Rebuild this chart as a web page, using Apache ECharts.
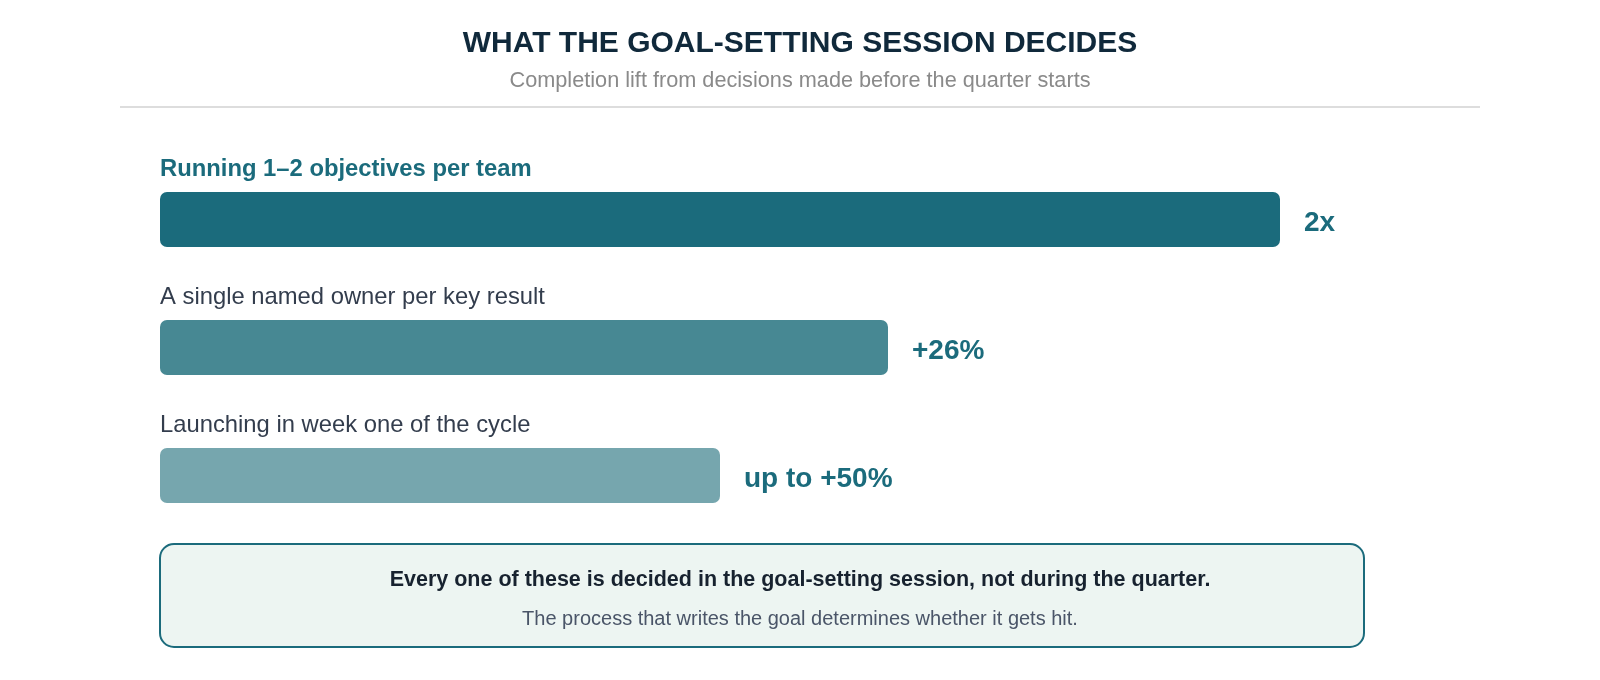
<!DOCTYPE html>
<html>
<head>
<meta charset="utf-8">
<script src="https://cdn.jsdelivr.net/npm/echarts@6/dist/echarts.min.js"></script>
<style>
  html, body { margin: 0; padding: 0; background: #ffffff; }
  #chart { width: 1600px; height: 680px; }
</style>
</head>
<body>
<div id="chart"></div>
<script>
const categories = [
  'Running 1\u20132 objectives per team',
  'A single named owner per key result',
  'Launching in week one of the cycle'
];
const barValues = [100, 65, 50];
const valueLabels = ['2x', '+26%', 'up to +50%'];
const barColors = ['#1b6b7c', '#478893', '#76a6ae'];
const titleText = 'WHAT THE GOAL-SETTING SESSION DECIDES';
const subtitleText = 'Completion lift from decisions made before the quarter starts';
const calloutMain = 'Every one of these is decided in the goal-setting session, not during the quarter.';
const calloutSub = 'The process that writes the goal determines whether it gets hit.';

const FONT = '"Liberation Sans", Arial, Helvetica, sans-serif';
const chart = echarts.init(document.getElementById('chart'), null, { renderer: 'canvas' });

const mainData = barValues.map((v, i) => ({
  value: v,
  itemStyle: { color: barColors[i], borderRadius: 7 },
  label: { formatter: valueLabels[i] }
}));
const nameData = barValues.map((v, i) => ({
  value: v,
  label: {
    formatter: categories[i],
    fontWeight: i === 0 ? 'bold' : 'normal',
    color: i === 0 ? '#1b6b7c' : '#333d4d'
  }
}));

chart.setOption({
  backgroundColor: '#ffffff',
  animation: false,
  grid: { left: 160, width: 1120, top: 155.5, height: 384, containLabel: false },
  xAxis: { type: 'value', min: 0, max: 100, show: false },
  yAxis: {
    type: 'category', data: categories, inverse: true, show: false
  },
  series: [
    {
      type: 'bar',
      data: mainData,
      barWidth: 55,
      barGap: '-100%',
      label: {
        show: true,
        position: 'right',
        distance: 24,
        offset: [0, 4],
        fontFamily: FONT,
        fontSize: 28,
        fontWeight: 'bold',
        color: '#1b6b7c'
      },
      z: 2
    },
    {
      type: 'bar',
      data: nameData,
      barWidth: 55,
      barGap: '-100%',
      itemStyle: { color: 'rgba(0,0,0,0)' },
      silent: true,
      label: {
        show: true,
        position: [0, -23],
        align: 'left',
        verticalAlign: 'middle',
        fontFamily: FONT,
        fontSize: 23.8
      },
      z: 3
    }
  ],
  graphic: [
    {
      type: 'text', x: 800, y: 44,
      style: { text: titleText, font: 'bold 30px ' + FONT, fill: '#10293b', align: 'center', verticalAlign: 'middle' }
    },
    {
      type: 'text', x: 800, y: 81,
      style: { text: subtitleText, font: '21.7px ' + FONT, fill: '#8a8a8a', align: 'center', verticalAlign: 'middle' }
    },
    {
      type: 'line', shape: { x1: 120, y1: 107, x2: 1480, y2: 107 },
      style: { stroke: '#dddddd', lineWidth: 2 }
    },
    {
      type: 'rect', shape: { x: 160, y: 544, width: 1204, height: 103, r: 14 },
      style: { fill: '#edf5f2', stroke: '#1b6b7c', lineWidth: 2 }
    },
    {
      type: 'text', x: 800, y: 580,
      style: { text: calloutMain, font: 'bold 21.5px ' + FONT, fill: '#17222f', align: 'center', verticalAlign: 'middle' }
    },
    {
      type: 'text', x: 800, y: 619,
      style: { text: calloutSub, font: '20px ' + FONT, fill: '#4a5568', align: 'center', verticalAlign: 'middle' }
    }
  ]
});
</script>
</body>
</html>
